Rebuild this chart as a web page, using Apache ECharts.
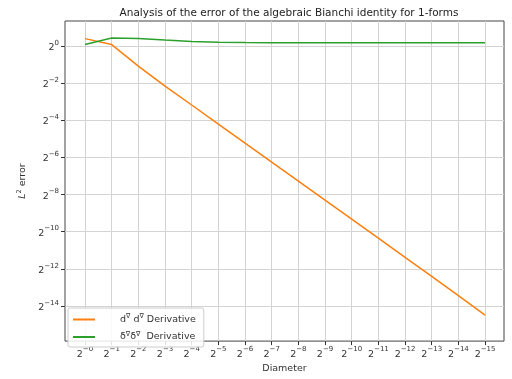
<!DOCTYPE html>
<html><head><meta charset="utf-8">
<script src="https://cdn.jsdelivr.net/npm/echarts@6/dist/echarts.min.js"></script>
<style>html,body{margin:0;padding:0;background:#fff}#c{width:512px;height:379px}</style>
</head><body><div id="c"></div>
<script>
// x: diameter = 2^-n, n below
var diameterExp = [0,1,2,3,4,5,6,7,8,9,10,11,12,13,14,15];
// log2 of L2 error
var errDD = [0.41,0.09,-1.07,-2.15,-3.17,-4.2,-5.22,-6.25,-7.27,-8.3,-9.32,-10.35,-11.38,-12.41,-13.45,-14.5];
var errDeltaDelta = [0.09,0.44,0.41,0.33,0.26,0.22,0.2,0.19,0.19,0.19,0.19,0.19,0.19,0.19,0.19,0.19];
var yTickExp = [0,-2,-4,-6,-8,-10,-12,-14];
var seriesNames = ['dd','deltadelta'];

var font = 'DejaVu Sans';
var chart = echarts.init(document.getElementById('c'));
function pairs(xs, ys){ return xs.map(function(x,i){ return [x, ys[i]]; }); }
var supRich = {
  b: {fontFamily: font, fontSize: 9.5, color: '#333', verticalAlign: 'bottom'},
  s: {fontFamily: font, fontSize: 7, color: '#333', verticalAlign: 'top', padding:[0,0,6,0]}
};
chart.setOption({
  animation: false,
  title: {text: 'Analysis of the error of the algebraic Bianchi identity for 1-forms', left: 284, top: 3, textAlign: 'center',
    textStyle: {fontFamily: font, fontSize: 10.5, fontWeight: 'normal', color: '#222'}},
  grid: {left: 65, right: 8, top: 21, bottom: 31, show: true, borderColor: '#444', borderWidth: 1},
  legend: {
    left: 68, top: 308, orient: 'vertical', itemWidth: 22, itemHeight: 2, itemGap: 6,
    padding: [5, 8, 5, 5], borderColor: '#ccc', borderWidth: 1, borderRadius: 2, backgroundColor: 'rgba(255,255,255,0.85)',
    icon: 'rect',
    data: seriesNames,
    formatter: function(n){
      return n === 'dd' ? '{g|       }{m|d}{u|∇}{m| d}{u|∇}{m| Derivative}' : '{g|       }{m|δ}{u|∇}{m|δ}{u|∇}{m|  Derivative}';
    },
    textStyle: {rich: {
      g: {fontSize: 9, fontFamily: font},
      m: {fontFamily: font, fontSize: 9.5, color: '#333'},
      u: {fontFamily: font, fontSize: 6.5, color: '#333', verticalAlign: 'top', padding: [0,0,6,0]}
    }}
  },
  xAxis: {
    type: 'value', min: -0.75, max: 15.71,
    name: 'Diameter', nameLocation: 'middle', nameGap: 22,
    nameTextStyle: {fontFamily: font, fontSize: 9.5, color: '#333'},
    axisLine: {show: false, onZero: false},
    axisTick: {show: true, length: 4, lineStyle: {color: '#333'}, customValues: diameterExp},
    axisLabel: {customValues: diameterExp, margin: 5, formatter: function(v){ return '{b|2}{s|−' + v + '}'; }, rich: supRich},
    splitLine: {show: true, lineStyle: {color: '#d3d3d3', width: 1}}
  },
  yAxis: {
    type: 'value', min: -15.9, max: 1.36,
    name: '{i|L}{s|2}{n| error}', nameLocation: 'middle', nameGap: 30, nameRotate: 90,
    nameTextStyle: {fontFamily: font, fontSize: 9.5, color: '#333', rich: {
      i: {fontFamily: font, fontSize: 9.5, fontStyle: 'italic', color: '#333'},
      s: {fontFamily: font, fontSize: 6.5, color: '#333', verticalAlign: 'top', padding: [0,0,6,0]},
      n: {fontFamily: font, fontSize: 9.5, color: '#333'}
    }},
    axisLine: {show: false, onZero: false},
    axisTick: {show: true, length: 4, lineStyle: {color: '#333'}, customValues: yTickExp},
    axisLabel: {customValues: yTickExp, margin: 6, formatter: function(v){ return '{b|2}{s|' + (v < 0 ? '−' + (-v) : v) + '}'; }, rich: supRich},
    splitLine: {show: true, lineStyle: {color: '#d3d3d3', width: 1}}
  },
  series: [
    {name: 'dd', type: 'line', data: pairs(diameterExp, errDD), showSymbol: false, symbol: 'none',
     lineStyle: {color: '#ff7f0e', width: 1.5}, itemStyle: {color: '#ff7f0e'}},
    {name: 'deltadelta', type: 'line', data: pairs(diameterExp, errDeltaDelta), showSymbol: false, symbol: 'none',
     lineStyle: {color: '#2ca02c', width: 1.5}, itemStyle: {color: '#2ca02c'}}
  ]
});
</script></body></html>
